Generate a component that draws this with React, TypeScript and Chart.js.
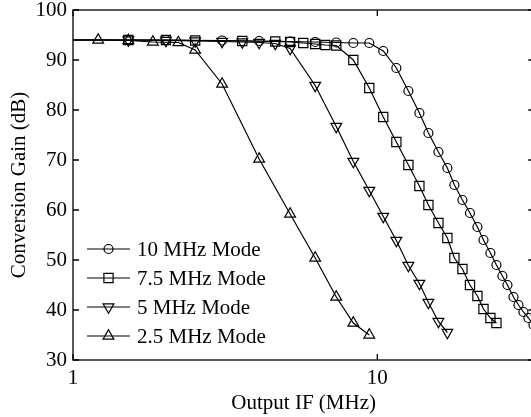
import { useEffect, useRef } from 'react';
import { Chart, registerables } from 'chart.js';

Chart.register(...registerables);

const FONT = '"Liberation Serif", "Times New Roman", serif';
const FONT_SIZE = 21;

// Frequencies (MHz) and conversion gain (dB) per mode
const f25 = [1, 1.21, 1.52, 1.83, 2.22, 2.52, 3.09, 4.09, 5.17, 6.25, 7.33, 8.34, 9.41];
const g25 = [94, 94, 93.9, 93.6, 93.5, 92.0, 85.2, 70.2, 59.2, 50.4, 42.6, 37.4, 35.0];

const f5 = [1, 1.52, 2.02, 2.52, 3.09, 3.6, 4.09, 4.62, 5.17, 6.25, 7.33, 8.34, 9.41, 10.46, 11.55, 12.65, 13.75, 14.72, 15.88, 16.99];
const g5 = [94, 94, 93.9, 93.8, 93.7, 93.6, 93.5, 93.3, 92.3, 84.9, 76.7, 69.7, 63.9, 58.7, 53.9, 48.9, 45.3, 41.5, 37.7, 35.5];

const f75 = [1, 1.52, 2.02, 2.52, 3.6, 4.62, 5.17, 5.71, 6.25, 6.75, 7.33, 8.34, 9.41, 10.46, 11.55, 12.65, 13.75, 14.72, 15.88, 16.99, 17.92, 19.04, 20.16, 21.33, 22.33, 23.53, 24.63];
const g75 = [94, 94, 94, 93.9, 93.8, 93.7, 93.6, 93.4, 93.2, 93.0, 92.9, 90.0, 84.4, 78.6, 73.6, 69.0, 64.8, 61.0, 57.4, 54.4, 50.4, 48.2, 45.0, 42.8, 40.2, 38.4, 37.4];

const f10 = [1, 2.02, 3.09, 4.09, 5.17, 6.25, 7.33, 8.34, 9.41, 10.46, 11.55, 12.65, 13.75, 14.72, 15.88, 16.99, 17.92, 19.04, 20.16, 21.33, 22.33, 23.53, 24.63, 25.77, 26.77, 28.02, 29.1, 30.21, 31.38, 32.6];
const g10 = [94, 94, 93.9, 93.8, 93.7, 93.6, 93.5, 93.4, 93.4, 91.8, 88.4, 83.8, 79.4, 75.4, 71.6, 68.4, 65.0, 62.0, 59.4, 56.6, 54.0, 51.4, 49.0, 46.8, 45.0, 42.6, 41.0, 39.6, 38.4, 37.0];

const seriesLabels = ['10 MHz Mode', '7.5 MHz Mode', '5 MHz Mode', '2.5 MHz Mode'];
const xTickValues = [1, 10];
const yTickValues = [30, 40, 50, 60, 70, 80, 90, 100];
const X_MIN = 1;
const X_MAX = 32.8;
const Y_MIN = 30;
const Y_MAX = 100;

const W = 542;
const H = 417;

const toPts = (xs: number[], ys: number[]) => xs.map((x, i) => ({ x, y: ys[i] }));

function drawMarker(ctx: CanvasRenderingContext2D, style: string, r: number, rot: number, x: number, y: number) {
  ctx.beginPath();
  if (style === 'circle') {
    ctx.arc(x, y, r, 0, Math.PI * 2);
  } else if (style === 'rect') {
    const s = Math.SQRT1_2 * r;
    ctx.rect(x - s, y - s, 2 * s, 2 * s);
  } else {
    let rad = (rot * Math.PI) / 180;
    ctx.moveTo(x + Math.sin(rad) * r, y - Math.cos(rad) * r);
    rad += (2 * Math.PI) / 3;
    ctx.lineTo(x + Math.sin(rad) * r, y - Math.cos(rad) * r);
    rad += (2 * Math.PI) / 3;
    ctx.lineTo(x + Math.sin(rad) * r, y - Math.cos(rad) * r);
    ctx.closePath();
  }
  ctx.stroke();
}

export default function App() {
  const ref = useRef<HTMLCanvasElement>(null);

  useEffect(() => {
    const canvas = ref.current;
    if (!canvas) return;

    const styles = [
      { pointStyle: 'circle', radius: 4.5, rotation: 0 },
      { pointStyle: 'rect', radius: 6.5, rotation: 0 },
      { pointStyle: 'triangle', radius: 6.2, rotation: 180 },
      { pointStyle: 'triangle', radius: 6.2, rotation: 0 },
    ];
    const data = [toPts(f10, g10), toPts(f75, g75), toPts(f5, g5), toPts(f25, g25)];

    const framePlugin = {
      id: 'frame',
      afterDraw(chart: any) {
        const { ctx, chartArea: a, scales } = chart;
        const xs = scales.x;
        const ys = scales.y;
        const tl = 6;
        ctx.save();
        ctx.strokeStyle = '#000';
        ctx.lineWidth = 1.3;
        ctx.strokeRect(a.left, a.top, a.right - a.left, a.bottom - a.top);
        ctx.beginPath();
        yTickValues.forEach((v) => {
          const p = ys.getPixelForValue(v);
          ctx.moveTo(a.left, p);
          ctx.lineTo(a.left + tl, p);
          ctx.moveTo(a.right, p);
          ctx.lineTo(a.right - tl, p);
        });
        xTickValues.forEach((v) => {
          const p = xs.getPixelForValue(v);
          ctx.moveTo(p, a.bottom);
          ctx.lineTo(p, a.bottom - tl);
          ctx.moveTo(p, a.top);
          ctx.lineTo(p, a.top + tl);
        });
        ctx.stroke();

        // legend (inside plot, lower left)
        const x0 = a.left + 14;
        const lineLen = 43;
        ctx.font = `${FONT_SIZE}px ${FONT}`;
        ctx.textBaseline = 'middle';
        ctx.textAlign = 'left';
        ctx.fillStyle = '#000';
        seriesLabels.forEach((label, i) => {
          const yy = a.bottom - 111 + i * 29;
          ctx.lineWidth = 1.2;
          ctx.beginPath();
          ctx.moveTo(x0, yy);
          ctx.lineTo(x0 + lineLen, yy);
          ctx.stroke();
          const s = styles[i];
          drawMarker(ctx, s.pointStyle, s.radius, s.rotation, x0 + lineLen / 2, yy);
          ctx.fillText(label, x0 + lineLen + 7, yy + 1);
        });
        ctx.restore();
      },
    };

    const chart = new Chart(canvas, {
      type: 'line',
      data: {
        datasets: data.map((pts, i) => ({
          label: seriesLabels[i],
          data: pts,
          borderColor: '#000',
          borderWidth: 1.2,
          tension: 0,
          fill: false,
          pointStyle: styles[i].pointStyle as any,
          pointRotation: styles[i].rotation,
          pointRadius: (c: any) => (c.dataIndex === 0 ? 0 : styles[i].radius),
          pointBorderWidth: 1.2,
          pointBorderColor: '#000',
          pointBackgroundColor: 'rgba(0,0,0,0)',
        })),
      },
      options: {
        responsive: false,
        animation: false,
        events: [],
        layout: { padding: { left: 0, top: 10, right: 2, bottom: 0 } },
        plugins: {
          legend: { display: false },
          tooltip: { enabled: false },
        },
        scales: {
          x: {
            type: 'logarithmic',
            min: X_MIN,
            max: X_MAX,
            bounds: 'data',
            grid: { display: false, drawTicks: false },
            border: { display: false },
            afterBuildTicks: (s: any) => {
              s.ticks = xTickValues.map((v) => ({ value: v }));
            },
            afterFit: (s: any) => {
              s.height = 57;
              s.paddingLeft = 0;
              s.paddingRight = 0;
            },
            ticks: {
              autoSkip: false,
              maxRotation: 0,
              padding: 6,
              color: '#000',
              font: { family: FONT, size: FONT_SIZE },
              callback: (v: any) => String(v),
            },
            title: {
              display: true,
              text: 'Output IF (MHz)',
              color: '#000',
              font: { family: FONT, size: FONT_SIZE },
              padding: { top: 0, bottom: 1 },
            },
          },
          y: {
            type: 'linear',
            min: Y_MIN,
            max: Y_MAX,
            grid: { display: false, drawTicks: false },
            border: { display: false },
            afterBuildTicks: (s: any) => {
              s.ticks = yTickValues.map((v) => ({ value: v }));
            },
            afterFit: (s: any) => {
              s.width = 73;
              s.paddingTop = 0;
              s.paddingBottom = 0;
            },
            ticks: {
              padding: 6,
              color: '#000',
              font: { family: FONT, size: FONT_SIZE },
            },
            title: {
              display: true,
              text: 'Conversion Gain (dB)',
              color: '#000',
              font: { family: FONT, size: FONT_SIZE },
              padding: { top: 7, bottom: 0 },
            },
          },
        },
      },
      plugins: [framePlugin],
    });

    return () => chart.destroy();
  }, []);

  return (
    <div style={{ position: 'fixed', left: 0, top: 0, width: 531, height: 417, overflow: 'hidden', background: '#fff' }}>
      <canvas ref={ref} width={W} height={H} style={{ display: 'block', width: W, height: H }} />
    </div>
  );
}
